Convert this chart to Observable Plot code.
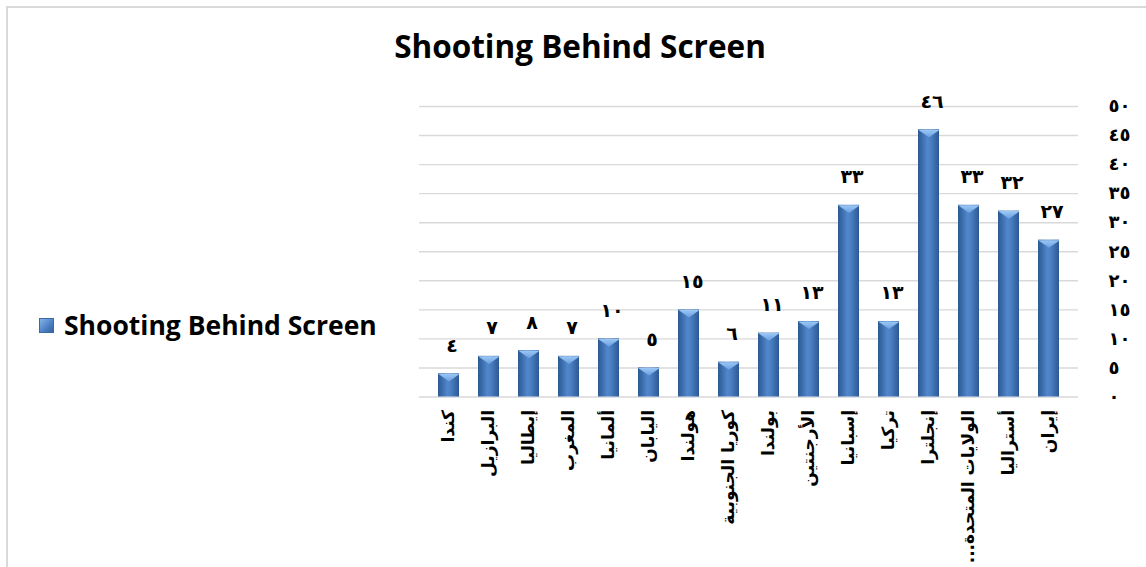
<!DOCTYPE html>
<html><head><meta charset="utf-8">
<script src="https://cdn.jsdelivr.net/npm/d3@7"></script>
<script src="https://cdn.jsdelivr.net/npm/@observablehq/plot@0.6"></script>
<style>
body{margin:0;background:#fff;overflow:hidden}
#wrap{position:relative;width:1146px;height:567px;overflow:hidden;background:#fff}
#frame{position:absolute;left:6px;top:6px;width:1300px;height:800px;border:2px solid #d9d9d9;box-sizing:border-box}
#title{position:absolute;left:0;width:1160px;top:28px;text-align:center;font:700 31.5px "Open Sans";color:#000;line-height:36px}
#legend{position:absolute;left:39px;top:308px;font:700 26.5px "Open Sans";color:#000;display:flex;align-items:center;line-height:34px}
#legend .sw{width:15px;height:15px;margin-right:10px;background:linear-gradient(135deg,#8dbbee 0%,#4f82c6 55%,#2d5c9c 100%);box-shadow:inset 0 0 0 1px #3a6aa8}
#chart{position:absolute;left:0;top:0}
</style></head>
<body>
<div id="wrap">
  <div id="frame"></div>
  <div id="title">Shooting Behind Screen</div>
  <div id="legend"><span class="sw"></span><span>Shooting Behind Screen</span></div>
  <div id="chart"></div>
</div>
<script>
const countries = ["كندا","البرازيل","إيطاليا","المغرب","ألمانيا","اليابان","هولندا","كوريا الجنوبية","بولندا","الأرجنتين","إسبانيا","تركيا","إنجلترا","الولايات المتحدة...","أستراليا","إيران"];
const values = [4,7,8,7,10,5,15,6,11,13,33,13,46,33,32,27];
const yTicks = [0,5,10,15,20,25,30,35,40,45,50];

const arDigits = "٠١٢٣٤٥٦٧٨٩";
const toArabic = n => String(n).replace(/\d/g, d => arDigits[+d]);
const data = countries.map((c, i) => ({country: c, value: values[i]}));

const bevel = {
  draw(ctx, size) {
    const r = Math.sqrt(size / Math.PI);
    ctx.moveTo(-r, 0);
    ctx.lineTo(r, 0);
    ctx.lineTo(0, r * 0.7);
    ctx.closePath();
  }
};

const chart = Plot.plot({
  width: 1146,
  height: 567,
  marginLeft: 419,
  marginRight: 68,
  marginTop: 106,
  marginBottom: 170.5,
  x: {domain: countries, padding: 0.47, label: null, tickRotate: -90, tickSize: 0, tickPadding: 13, tickFormat: d => d + "\u200F"},
  y: {domain: [0, 50], axis: "right", ticks: yTicks, tickSize: 0, tickPadding: 30, tickFormat: toArabic, label: null},
  style: {fontFamily: "DejaVu Sans", fontWeight: "bold", fontSize: "17px", color: "#000", background: "transparent", overflow: "visible"},
  marks: [
    Plot.ruleY(yTicks, {stroke: "#d9d9d9", strokeWidth: 1.4}),
    Plot.barY(data, {x: "country", y: "value", fill: "url(#barGrad)"}),
    Plot.dot(data, {x: "country", y: "value", symbol: bevel, r: 10.9, fill: "url(#bevelGrad)", stroke: null}),
    Plot.text(data, {x: "country", y: "value", text: d => toArabic(d.value), dy: -22, dx: 3, lineAnchor: "bottom", fontSize: 19, fontWeight: "bold", fill: "#000"})
  ]
});

const svg = d3.select(chart);
const defs = svg.insert("defs", ":first-child");
const g1 = defs.append("linearGradient").attr("id", "barGrad").attr("x1", "0").attr("x2", "1").attr("y1", "0").attr("y2", "0");
g1.append("stop").attr("offset", "0%").attr("stop-color", "#2b5994");
g1.append("stop").attr("offset", "45%").attr("stop-color", "#5187cb");
g1.append("stop").attr("offset", "60%").attr("stop-color", "#4c80c4");
g1.append("stop").attr("offset", "100%").attr("stop-color", "#2b5994");
const g2 = defs.append("linearGradient").attr("id", "bevelGrad").attr("x1", "0").attr("x2", "0").attr("y1", "0").attr("y2", "1");
g2.append("stop").attr("offset", "0%").attr("stop-color", "#9cc8f5");
g2.append("stop").attr("offset", "100%").attr("stop-color", "#6a9fe0");

svg.selectAll('g[aria-label="text"] text').style("letter-spacing", "6px");
svg.selectAll('g[aria-label="y-axis tick label"] text').style("letter-spacing", "6px").style("font-size", "18px");

document.getElementById("chart").appendChild(chart);
</script>
</body></html>
